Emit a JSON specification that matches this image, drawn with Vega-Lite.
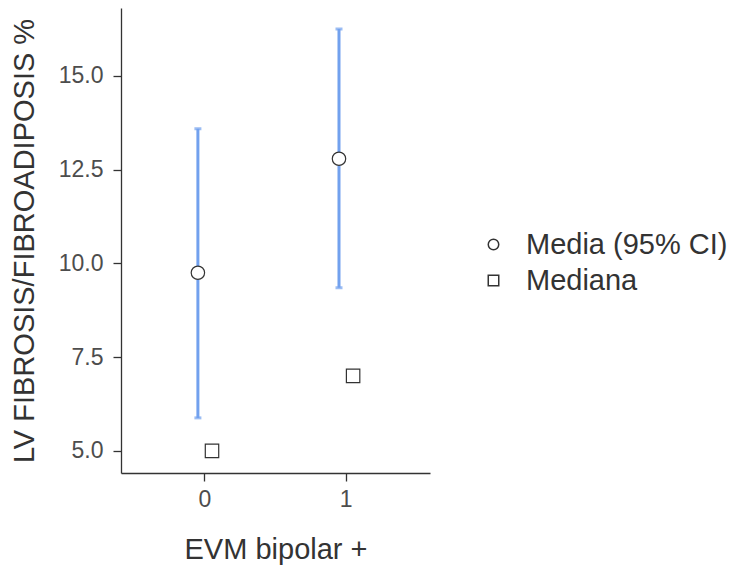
{
  "$schema": "https://vega.github.io/schema/vega-lite/v6.json",
  "width": 309,
  "height": 465,
  "autosize": {"type": "none"},
  "padding": {"left": 121, "top": 8, "right": 308, "bottom": 92},
  "background": "white",
  "config": {
    "view": {"stroke": null},
    "font": "Liberation Sans",
    "axis": {
      "grid": false,
      "domainColor": "#333333",
      "domainWidth": 1.3,
      "tickColor": "#333333",
      "tickWidth": 1.3,
      "tickSize": 8,
      "labelColor": "#4d4d4d",
      "labelFontSize": 23,
      "labelFont": "Liberation Sans",
      "titleFont": "Liberation Sans",
      "titleFontSize": 29,
      "titleFontWeight": "normal",
      "titleColor": "#333333"
    }
  },
  "data": {
    "values": [
      {"g": "0", "stat": "Media (95% CI)", "v": 9.75, "lo": 5.88, "hi": 13.59},
      {"g": "0", "stat": "Mediana", "v": 5.0},
      {"g": "1", "stat": "Media (95% CI)", "v": 12.79, "lo": 9.35, "hi": 16.25},
      {"g": "1", "stat": "Mediana", "v": 7.0}
    ]
  },
  "encoding": {
    "x": {
      "field": "g", "type": "nominal",
      "scale": {"paddingInner": 0.8, "paddingOuter": 0.495},
      "axis": {"title": "EVM bipolar +", "labelAngle": 0, "labelPadding": 7, "titleY": 85, "titleBaseline": "alphabetic", "labelFontSize": 23, "titleFontSize": 29}
    },
    "xOffset": {"field": "stat", "type": "nominal", "scale": {"domain": ["Media (95% CI)", "Mediana"]}}
  },
  "layer": [
    {
      "transform": [{"filter": "datum.lo != null"}],
      "mark": {"type": "rule", "color": "#72a1ee", "strokeWidth": 3},
      "encoding": {
        "y": {"field": "lo", "type": "quantitative"},
        "y2": {"field": "hi"}
      }
    },
    {
      "transform": [{"filter": "datum.lo != null"}],
      "mark": {"type": "tick", "orient": "horizontal", "color": "#72a1ee", "size": 7, "thickness": 3},
      "encoding": {"y": {"field": "lo", "type": "quantitative"}}
    },
    {
      "transform": [{"filter": "datum.lo != null"}],
      "mark": {"type": "tick", "orient": "horizontal", "color": "#72a1ee", "size": 7, "thickness": 3},
      "encoding": {"y": {"field": "hi", "type": "quantitative"}}
    },
    {
      "mark": {"type": "point", "filled": false, "fill": "white", "stroke": "#333333", "strokeWidth": 1.2, "size": 180, "opacity": 1, "fillOpacity": 1, "strokeOpacity": 1},
      "encoding": {
        "y": {
          "field": "v", "type": "quantitative",
          "scale": {"domain": [4.41, 16.81], "nice": false, "zero": false},
          "axis": {"title": "LV FIBROSIS/FIBROADIPOSIS %", "values": [5, 7.5, 10, 12.5, 15], "format": ".1f", "labelPadding": 10, "titleX": -88, "titleBaseline": "alphabetic", "labelFontSize": 23, "titleFontSize": 29}
        },
        "shape": {
          "field": "stat", "type": "nominal",
          "scale": {"domain": ["Media (95% CI)", "Mediana"], "range": ["circle", "square"]},
          "legend": {
            "title": null,
            "orient": "none",
            "legendX": 358,
            "legendY": 222,
            "padding": 0,
            "labelFontSize": 29,
            "labelColor": "#333333",
            "labelFont": "Liberation Sans",
            "labelLimit": 400,
            "symbolSize": 110,
            "rowPadding": 6,
            "labelOffset": 18,
            "encode": {
              "symbols": {
                "update": {
                  "fill": {"value": "white"},
                  "stroke": {"value": "#333333"},
                  "strokeWidth": {"value": 1.2},
                  "opacity": {"value": 1},
                  "fillOpacity": {"value": 1},
                  "strokeOpacity": {"value": 1},
                  "size": {"value": 110}
                }
              }
            }
          }
        }
      }
    }
  ]
}
